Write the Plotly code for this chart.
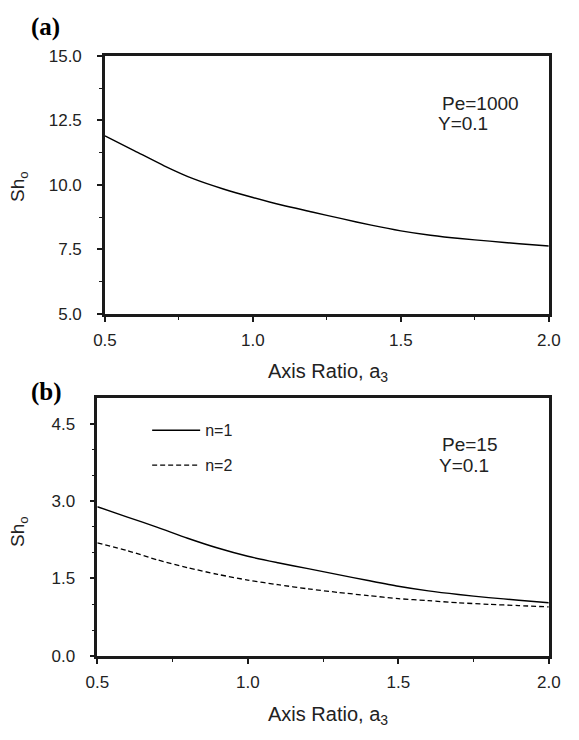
import plotly.graph_objects as go

# ---- data ----
axis_ratio = [0.5, 0.6, 0.7, 0.8, 0.9, 1.0, 1.1, 1.2, 1.3, 1.4, 1.5, 1.6, 1.7, 1.8, 1.9, 2.0]
sh_a_pe1000 = [11.90, 11.32, 10.74, 10.23, 9.84, 9.51, 9.21, 8.95, 8.69, 8.44, 8.22, 8.05, 7.92, 7.82, 7.72, 7.63]
sh_b_n1 = [2.89, 2.69, 2.49, 2.28, 2.09, 1.93, 1.805, 1.69, 1.575, 1.46, 1.35, 1.26, 1.19, 1.13, 1.08, 1.03]
sh_b_n2 = [2.19, 2.04, 1.86, 1.71, 1.58, 1.47, 1.38, 1.30, 1.23, 1.17, 1.11, 1.07, 1.03, 1.00, 0.975, 0.95]

W, H = 579, 740
FONT = "Liberation Sans, Arial, sans-serif"
SERIF = "Liberation Serif, Times New Roman, serif"
AX = "#1a1a1a"
TXT = "#222"

fig = go.Figure()
fig.add_trace(go.Scatter(x=axis_ratio, y=sh_a_pe1000, mode="lines",
                         line=dict(color="black", width=1.4, shape="spline", smoothing=0.7),
                         xaxis="x", yaxis="y", showlegend=False))
fig.add_trace(go.Scatter(x=axis_ratio, y=sh_b_n1, mode="lines", name="n=1",
                         line=dict(color="black", width=1.4, shape="spline", smoothing=0.7),
                         xaxis="x2", yaxis="y2", legendgroup="g1"))
fig.add_trace(go.Scatter(x=axis_ratio, y=sh_b_n2, mode="lines", name="n=2",
                         line=dict(color="black", width=1.3, dash="5px,3px", shape="spline", smoothing=0.7),
                         xaxis="x2", yaxis="y2", legendgroup="g2"))

def px_x(p):
    return p / W

def px_y(p):
    return 1 - p / H

common_axis = dict(showline=True, linewidth=2.5, linecolor=AX, mirror=True,
                   ticks="outside", ticklen=5, tickwidth=1.5, tickcolor=AX,
                   showgrid=False, zeroline=False,
                   tickfont=dict(family=FONT, size=17, color=TXT),
                   tickformat=".1f")

minor_x = dict(tickvals=[0.75, 1.25, 1.75], ticks="outside", ticklen=3, tickwidth=1.2, tickcolor=AX)

fig.update_layout(
    width=W, height=H,
    margin=dict(l=0, r=0, t=0, b=0),
    paper_bgcolor="white", plot_bgcolor="white",
    xaxis=dict(common_axis, domain=[px_x(97), px_x(560)], range=[0.5, 2.0],
               tickvals=[0.5, 1.0, 1.5, 2.0], anchor="y", ticklabelstandoff=4,
               minor=minor_x),
    yaxis=dict(common_axis, domain=[px_y(313), px_y(48)], range=[5.0, 15.0],
               tickvals=[5.0, 7.5, 10.0, 12.5, 15.0], anchor="x", ticklabelstandoff=12,
               minor=dict(tickvals=[6.25, 8.75, 11.25, 13.75], ticks="outside", ticklen=3,
                          tickwidth=1.2, tickcolor=AX)),
    xaxis2=dict(common_axis, domain=[px_x(89), px_x(560)], range=[0.5, 2.0],
                tickvals=[0.5, 1.0, 1.5, 2.0], anchor="y2", ticklabelstandoff=4,
                minor=minor_x),
    yaxis2=dict(common_axis, domain=[px_y(664), px_y(399)], range=[0.0, 5.0],
                tickvals=[0.0, 1.5, 3.0, 4.5], anchor="x2", ticklabelstandoff=11,
                minor=dict(tickvals=[0.5, 1.0, 2.0, 2.5, 3.5, 4.0], ticks="outside", ticklen=3,
                           tickwidth=1.2, tickcolor=AX)),
    showlegend=True,
    legend=dict(x=px_x(141), y=px_y(415), xanchor="left", yanchor="top",
                bgcolor="rgba(0,0,0,0)", borderwidth=0,
                font=dict(family=FONT, size=16, color=TXT),
                itemwidth=48, traceorder="grouped", tracegroupgap=11),
)

ann = [
    dict(text="(a)", x=px_x(35), y=px_y(18), font=dict(family=SERIF, size=25, color="black"), bold=True),
    dict(text="(b)", x=px_x(36), y=px_y(393), font=dict(family=SERIF, size=25, color="black"), bold=True),
    dict(text="Axis Ratio, a<sub>3</sub>", x=px_x(330), y=px_y(373), font=dict(family=FONT, size=20, color=TXT)),
    dict(text="Axis Ratio, a<sub>3</sub>", x=px_x(330), y=px_y(725), font=dict(family=FONT, size=20, color=TXT)),
    dict(text="Sh<sub>o</sub>", x=px_x(8), y=px_y(182), textangle=-90, font=dict(family=FONT, size=19, color=TXT)),
    dict(text="Sh<sub>o</sub>", x=px_x(8), y=px_y(536), textangle=-90, font=dict(family=FONT, size=19, color=TXT)),
    dict(text="Pe=1000", x=px_x(446), y=px_y(97), xanchor="left", font=dict(family=FONT, size=19, color=TXT)),
    dict(text="Y=0.1", x=px_x(442), y=px_y(118), xanchor="left", font=dict(family=FONT, size=19, color=TXT)),
    dict(text="Pe=15", x=px_x(446), y=px_y(447), xanchor="left", font=dict(family=FONT, size=19, color=TXT)),
    dict(text="Y=0.1", x=px_x(443), y=px_y(469), xanchor="left", font=dict(family=FONT, size=19, color=TXT)),
]
for a in ann:
    bold = a.pop("bold", False)
    if bold:
        a["text"] = "<b>" + a["text"] + "</b>"
    a.setdefault("xanchor", "center")
    fig.add_annotation(xref="paper", yref="paper", showarrow=False, yanchor="middle", **a)

fig.write_html("out.html")
